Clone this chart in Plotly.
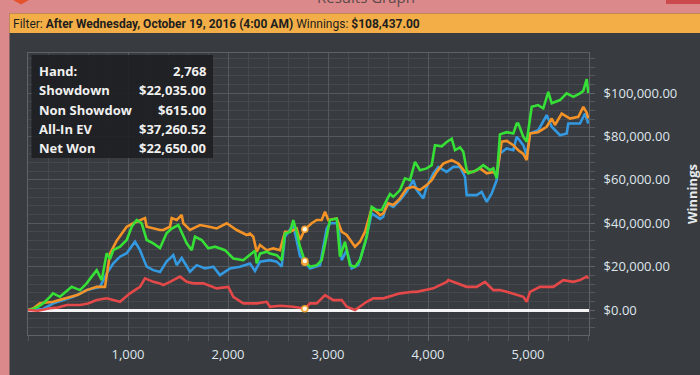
import plotly.graph_objects as go

# ---------------- data ----------------
green_hands = [0, 50, 100, 150, 220, 250, 320, 380, 437, 520, 587, 637, 687, 737, 787, 820, 853, 920, 987, 1037,
               1087, 1137, 1187, 1253, 1320, 1387, 1437, 1503, 1537, 1587, 1637, 1670, 1737, 1803, 1870, 1970, 2053,
               2153, 2220, 2270, 2287, 2320, 2387, 2420, 2487, 2537, 2570, 2620, 2653, 2687, 2720, 2768, 2820, 2887,
               2937, 2987, 3020, 3087, 3120, 3170, 3220, 3270, 3320, 3387, 3437, 3487, 3537, 3587, 3620, 3653, 3720,
               3770, 3820, 3870, 3920, 3987, 4037, 4070, 4137, 4187, 4237, 4270, 4320, 4353, 4387, 4403, 4487, 4553,
               4620, 4653, 4687, 4703, 4720, 4787, 4853, 4887, 4903, 4953, 4987, 5037, 5100, 5153, 5203, 5237, 5320,
               5387, 5453, 5520, 5553, 5587, 5603]
green_vals = [0, 500, 1500, 3000, 6100, 7700, 6100, 8500, 10700, 9200, 12300, 15400, 18400, 13800, 26200, 23500, 27600,
              29200, 32300, 38400, 41500, 40000, 32300, 30700, 28600, 35500, 37600, 39200, 36000, 30800, 27600, 33800,
              32300, 28500, 29200, 27600, 23800, 23000, 25500, 27300, 21500, 26000, 26900, 26100, 25300, 23000, 35300,
              36000, 41500, 36000, 29200, 22650, 20000, 20700, 23000, 33800, 41500, 42200, 24600, 31500, 20700, 20000,
              23000, 33800, 47600, 46100, 46100, 50700, 53500, 52200, 55300, 60700, 59900, 68300, 64500, 65300, 66800,
              76000, 75500, 77500, 79000, 73700, 75000, 73000, 64500, 63000, 64500, 66800, 64500, 65300, 60700, 70600,
              81000, 82000, 81400, 86000, 86000, 79900, 77600, 93700, 94500, 93000, 100600, 95300, 96800, 99900, 98300,
              99900, 101000, 106500, 100000]

orange_hands = [0, 60, 120, 253, 340, 420, 500, 587, 687, 770, 820, 887, 987, 1053, 1120, 1170, 1187, 1253, 1320, 1353,
                1420, 1437, 1487, 1537, 1553, 1620, 1720, 1800, 1887, 1987, 2087, 2187, 2220, 2253, 2287, 2320, 2387,
                2453, 2520, 2570, 2620, 2687, 2720, 2768, 2837, 2887, 2937, 2970, 3003, 3087, 3137, 3187, 3237, 3270,
                3320, 3370, 3437, 3487, 3520, 3553, 3603, 3653, 3687, 3720, 3787, 3853, 3920, 3987, 4037, 4087, 4153,
                4237, 4303, 4370, 4453, 4520, 4587, 4653, 4687, 4703, 4737, 4787, 4853, 4903, 4953, 4987, 5020, 5100,
                5187, 5237, 5270, 5337, 5420, 5503, 5553, 5587, 5603]
orange_vals = [0, 1000, 3100, 3800, 5000, 6100, 7000, 9200, 10700, 10700, 26000, 32000, 38400, 40000, 41500, 42400,
               38400, 37600, 36900, 36900, 38400, 42400, 41500, 43800, 40000, 36900, 39200, 38500, 37600, 40000, 36900,
               34600, 35300, 33800, 26900, 30000, 27600, 28400, 27600, 36100, 36100, 37600, 32300, 37260, 40000, 41500,
               41500, 45300, 41500, 42200, 36100, 34600, 31500, 29200, 31500, 36100, 46900, 45300, 43800, 44600, 49200,
               48400, 49900, 51500, 56100, 56800, 55300, 57600, 59900, 63700, 67500, 69100, 67500, 63700, 63700, 65300,
               63000, 63700, 62000, 67500, 77600, 78000, 76000, 73700, 72000, 69100, 81400, 82000, 84500, 88300, 85300,
               90600, 88300, 89100, 93700, 91000, 88300]

blue_hands = [0, 150, 253, 350, 453, 587, 650, 720, 787, 853, 920, 987, 1070, 1120, 1187, 1253, 1320, 1387, 1453, 1487,
              1537, 1620, 1687, 1770, 1853, 1920, 2020, 2120, 2220, 2270, 2320, 2420, 2487, 2537, 2570, 2653, 2720,
              2768, 2820, 2920, 2987, 3020, 3103, 3137, 3187, 3237, 3303, 3370, 3437, 3520, 3553, 3587, 3653, 3720,
              3787, 3853, 3887, 3953, 3987, 4053, 4103, 4187, 4253, 4320, 4370, 4387, 4487, 4537, 4587, 4637, 4687,
              4703, 4720, 4787, 4853, 4887, 4953, 4987, 5020, 5103, 5187, 5237, 5320, 5387, 5403, 5520, 5570, 5603]
blue_vals = [0, 500, 3100, 4500, 6100, 9200, 9800, 10700, 16900, 21500, 24600, 26200, 31500, 27600, 20000, 18400, 17500,
             22500, 25300, 20700, 24000, 17700, 20700, 19200, 20000, 16100, 19200, 20000, 21500, 18000, 22300, 23000,
             22300, 20000, 33800, 39200, 25000, 22035, 19200, 20700, 37600, 40000, 40000, 23000, 27600, 19200, 20700,
             30700, 44600, 42000, 43000, 49200, 47600, 50700, 54500, 59900, 55300, 51500, 56800, 63000, 66000, 63700,
             66000, 66000, 61400, 53000, 53000, 54500, 49900, 53800, 59900, 66800, 72200, 74500, 73700, 79900, 76000,
             71400, 81400, 82900, 89900, 84500, 80600, 81400, 86000, 86000, 90600, 86000]

red_hands = [0, 100, 220, 300, 387, 520, 600, 687, 787, 850, 920, 1020, 1120, 1170, 1253, 1320, 1353, 1420, 1520, 1587,
             1653, 1753, 1887, 2003, 2053, 2153, 2287, 2387, 2420, 2520, 2653, 2768, 2820, 2887, 2970, 3053, 3137, 3187,
             3270, 3387, 3453, 3553, 3720, 3853, 3887, 4053, 4187, 4203, 4303, 4387, 4487, 4570, 4653, 4720, 4787, 4887,
             4953, 4987, 5020, 5120, 5187, 5253, 5353, 5453, 5520, 5587, 5603]
red_vals = [0, -300, 800, 1200, 2300, 2300, 3000, 4600, 5400, 4500, 3800, 7700, 10700, 14600, 13000, 12300, 11500, 13000,
            15400, 13000, 12300, 12300, 10000, 10700, 6100, 3100, 3100, 3800, 1500, 2000, 1500, 615, 3100, 3100, 6900,
            4600, 4600, 1500, 0, 3800, 5400, 5400, 7700, 8400, 8400, 10000, 13000, 13800, 12300, 10700, 10700, 13000,
            9200, 9200, 8400, 6900, 6100, 3800, 8400, 10700, 10700, 10700, 13800, 13000, 13800, 15400, 14600]

sel_hand = 2768
stat_labels = ["Hand:", "Showdown", "Non Showdow", "All-In EV", "Net Won"]
stat_values = ["2,768", "$22,035.00", "$615.00", "$37,260.52", "$22,650.00"]
sel_vals = [22035, 615, 37260.52, 22650]
x_ticks = [1000, 2000, 3000, 4000, 5000]
filter_text = "Filter: <b>After Wednesday, October 19, 2016 (4:00 AM)</b> Winnings: <b>$108,437.00</b>"

# ---------------- layout geometry ----------------
W, H = 700, 375
L, R, T, B = 28, 111, 53, 40
PW, PH = W - L - R, H - T - B


def px(x):
    return (x - L) / PW


def py(y):
    return (H - B - y) / PH


BG = "#383b3f"
fig = go.Figure()

fig.add_trace(go.Scatter(x=blue_hands, y=blue_vals, mode="lines", line=dict(color="#3399e0", width=2.6),
                         hoverinfo="skip", showlegend=False))
fig.add_trace(go.Scatter(x=orange_hands, y=orange_vals, mode="lines", line=dict(color="#f39327", width=2.6),
                         hoverinfo="skip", showlegend=False))
fig.add_trace(go.Scatter(x=green_hands, y=green_vals, mode="lines", line=dict(color="#36e036", width=2.6),
                         hoverinfo="skip", showlegend=False))
fig.add_trace(go.Scatter(x=red_hands, y=red_vals, mode="lines", line=dict(color="#e44848", width=2.6),
                         hoverinfo="skip", showlegend=False))
fig.add_trace(go.Scatter(x=[sel_hand] * len(sel_vals), y=sel_vals, mode="markers",
                         marker=dict(size=6, color="#fff6e0", line=dict(color="#f0a030", width=1.5)),
                         hoverinfo="skip", showlegend=False))

shapes = [
    dict(type="rect", xref="paper", yref="paper", x0=px(0), x1=px(700), y0=py(13.5), y1=py(0),
         fillcolor="#dc898b", line_width=0, layer="below"),
    dict(type="rect", xref="paper", yref="paper", x0=px(0), x1=px(9.5), y0=py(375), y1=py(0),
         fillcolor="#dc898b", line_width=0, layer="below"),
    dict(type="rect", xref="paper", yref="paper", x0=px(9.5), x1=px(700), y0=py(33), y1=py(13.5),
         fillcolor="#f3ae47", line_width=0, layer="below"),
    dict(type="rect", xref="paper", yref="paper", x0=px(666), x1=px(700), y0=py(4), y1=py(0),
         fillcolor="#cc4a4d", line_width=0, layer="below"),
    dict(type="path", xref="paper", yref="paper",
         path=f"M {px(13)} {py(0)} L {px(29)} {py(0)} L {px(21)} {py(4.5)} Z",
         fillcolor="#e4532c", line_width=0, layer="below"),
    dict(type="rect", xref="paper", yref="paper", x0=px(31.5), x1=px(213), y0=py(158), y1=py(55),
         fillcolor="rgba(30,31,34,0.92)", line_width=0, layer="above"),
]

annotations = [
    dict(text="Results Graph", xref="paper", yref="paper", x=px(366), y=py(9), xanchor="center", yanchor="bottom",
         showarrow=False, font=dict(family="Open Sans", size=15, color="#5a4a4a")),
    dict(text=filter_text, xref="paper", yref="paper", x=px(11), y=py(24), xanchor="left", yanchor="middle",
         showarrow=False, font=dict(family="Roboto", size=12, color="#1e1e1e")),
    dict(text="<b>Winnings</b>", xref="paper", yref="paper", x=px(692), y=py(194), xanchor="center",
         yanchor="middle", textangle=-90, showarrow=False,
         font=dict(family="Open Sans", size=13, color="#e6e9ec")),
]
row_y = [70.5, 90, 109.5, 129, 148]
for lab, val, yy in zip(stat_labels, stat_values, row_y):
    annotations.append(dict(text=f"<b>{lab}</b>", xref="paper", yref="paper", x=px(37), y=py(yy),
                            xanchor="left", yanchor="middle", showarrow=False,
                            font=dict(family="Open Sans", size=13, color="#f0f0f0")))
    annotations.append(dict(text=f"<b>{val}</b>", xref="paper", yref="paper", x=px(207.5), y=py(yy),
                            xanchor="right", yanchor="middle", showarrow=False,
                            font=dict(family="Open Sans", size=13, color="#f0f0f0")))

axis_common = dict(showgrid=True, gridcolor="#55585c", gridwidth=1, showline=True, linecolor="#5f6266",
                   linewidth=1, mirror=True, ticks="outside", ticklen=5, tickcolor="#62656a",
                   tickfont=dict(family="Open Sans", size=13, color="#dfe6ee"))

fig.update_layout(
    width=W, height=H, margin=dict(l=L, r=R, t=T, b=B),
    paper_bgcolor=BG, plot_bgcolor=BG,
    shapes=shapes, annotations=annotations,
    xaxis=dict(range=[0, 5610], tickvals=x_ticks, tickformat=",", zeroline=False,
               minor=dict(dtick=200, tick0=0, showgrid=True, gridcolor="#45484c", ticks="outside",
                          ticklen=5, tickcolor="#55585c"),
               ticklabelstandoff=2, **axis_common),
    yaxis=dict(range=[-11500, 118500], side="right", dtick=20000, tick0=0, tickprefix="$", tickformat=",.2f",
               zeroline=True, zerolinecolor="#f4f4f4", zerolinewidth=3,
               minor=dict(dtick=4000, tick0=0, showgrid=True, gridcolor="#45484c", ticks="outside",
                          ticklen=5, tickcolor="#55585c"),
               ticklabelstandoff=6, **axis_common),
)

fig.write_html("out.html")
